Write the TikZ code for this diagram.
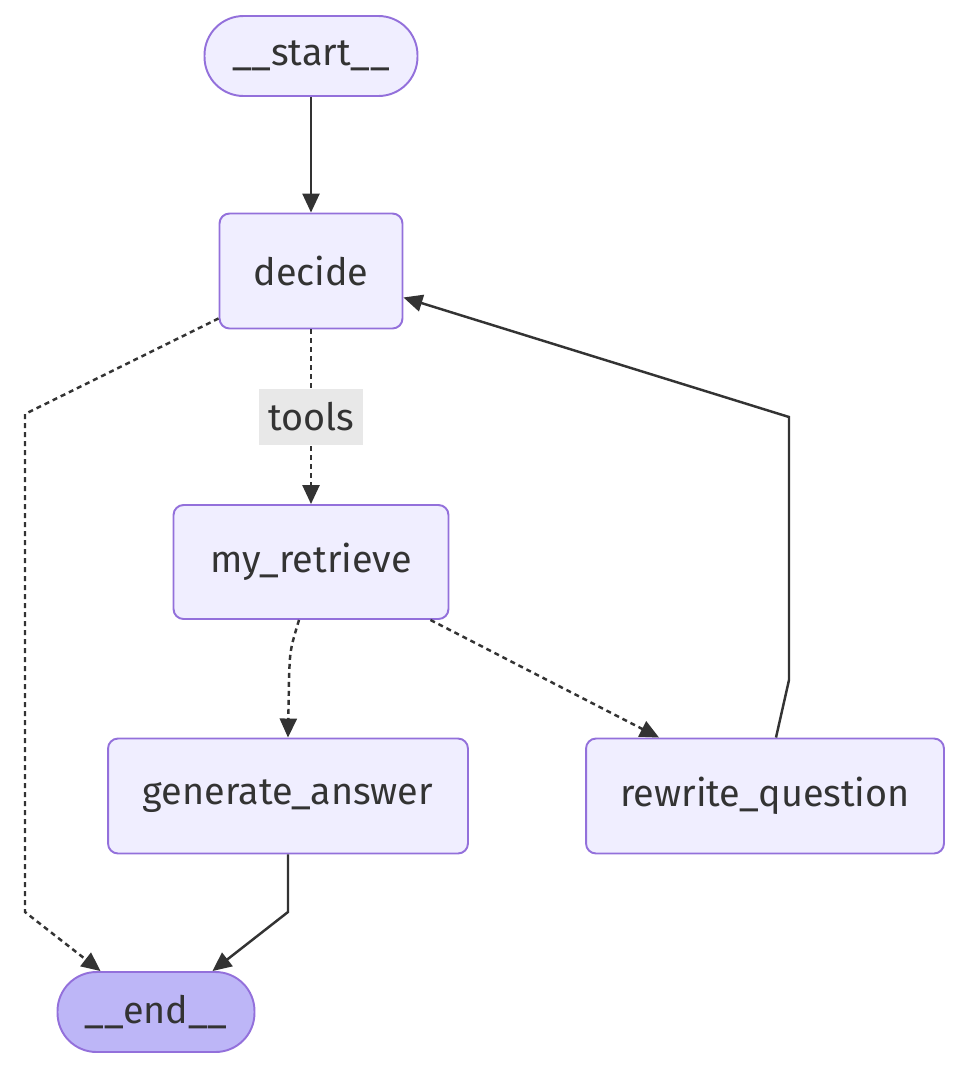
\documentclass[tikz,border=0pt]{standalone}
\usepackage{fontspec}
\setmainfont{Fira Sans}
\usetikzlibrary{arrows.meta}

\definecolor{nodeline}{HTML}{9370DB}
\definecolor{nodefill}{HTML}{F0EEFF}
\definecolor{endfill}{HTML}{BDB6F7}
\definecolor{ink}{HTML}{333333}
\definecolor{labelbg}{HTML}{E8E8E8}

\begin{document}
\begin{tikzpicture}[x=0.02cm,y=-0.02cm,
    state/.style={draw=nodeline,line width=1.1pt,fill=nodefill,rounded corners=0.2cm,
      text=ink,font=\fontsize{21.5}{24}\selectfont,inner sep=0pt},
    terminal/.style={state,rounded corners=0.78cm,minimum height=1.6cm},
    flow/.style={draw=ink,line width=1.4pt,-{Triangle[length=0.38cm,width=0.34cm]}},
    dotted flow/.style={flow,dash pattern=on 0.1cm off 0.08cm},
    edge label/.style={fill=labelbg,text=ink,font=\fontsize{21.5}{24}\selectfont,
      minimum width=2.1cm,minimum height=1.12cm,inner sep=0pt}]
\useasboundingbox (0,0) rectangle (958,1066);

% graph nodes
\node[terminal,minimum width=4.26cm] (start) at (311,56) {\_\_start\_\_};
\node[state,minimum width=3.66cm,minimum height=2.3cm] (decide) at (311,271) {decide};
\node[state,minimum width=5.5cm,minimum height=2.28cm] (retrieve) at (311,562) {my\_retrieve};
\node[state,minimum width=7.2cm,minimum height=2.3cm] (generate) at (288,796) {generate\_answer};
\node[state,minimum width=7.16cm,minimum height=2.3cm] (rewrite) at (765,796) {rewrite\_question};
\node[terminal,fill=endfill,minimum width=3.94cm] (end) at (156,1012) {\_\_end\_\_};

% bend points
\coordinate (e1) at (25,414);
\coordinate (e2) at (25,912);
\coordinate (g1) at (288,912);
\coordinate (r1) at (789,680);
\coordinate (r2) at (789,417);
\coordinate (m1) at (289,680);

% edges
\draw[flow] (start.south) -- (decide.north);
\draw[dotted flow] ([yshift=0.22cm]decide.south west) -- (e1) -- (e2) -- ([xshift=0.88cm]end.north west);
\draw[dotted flow] (decide.south) -- node[edge label] (tools) {tools} (retrieve.north);
\draw[dotted flow] ([xshift=-0.24cm]retrieve.south) .. controls (290,650) .. (m1) -- (generate.north);
\draw[dotted flow] ([xshift=-0.38cm]retrieve.south east) -- ([xshift=1.48cm]rewrite.north west);
\draw[flow] (generate.south) -- (g1) -- ([xshift=-0.86cm]end.north east);
\draw[flow] ([xshift=0.22cm]rewrite.north) -- (r1) -- (r2) -- ([yshift=0.64cm]decide.south east);
\end{tikzpicture}
\end{document}
